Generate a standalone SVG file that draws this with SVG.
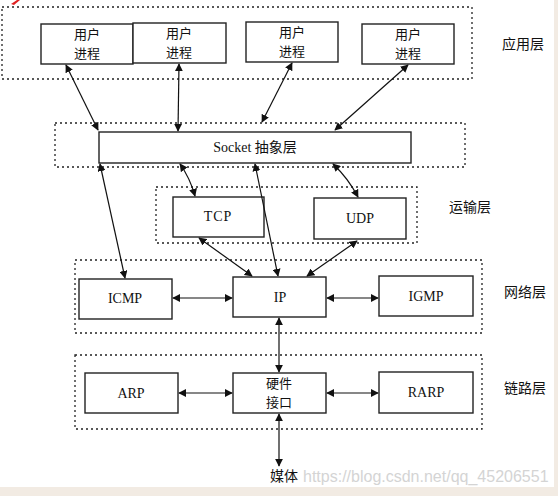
<svg xmlns="http://www.w3.org/2000/svg" width="558" height="496" viewBox="0 0 558 496">
<style>
.bg{fill:#ffffff}
.band{fill:#f2ebe3}
.layer{fill:none;stroke:#222;stroke-width:1.3;stroke-dasharray:2 3}
.box{fill:#ffffff;stroke:#222;stroke-width:1.4}
.cn{font-family:"Noto Sans CJK SC","Liberation Sans",sans-serif;font-size:14px;fill:#111;text-anchor:middle}
.cn2{font-family:"Noto Sans CJK SC","Liberation Sans",sans-serif;font-size:13px;fill:#111;text-anchor:middle}
.lat{font-family:"Liberation Serif","Noto Sans CJK SC",serif;font-size:14px;fill:#111;text-anchor:middle}
.side{font-family:"Noto Sans CJK SC",sans-serif;font-size:14px;fill:#111}
.wm{font-family:"Liberation Sans",sans-serif;font-size:16px;fill:#d4d4d4}
.conn line,.conn path{stroke:#111;stroke-width:1.2;fill:none;marker-start:url(#ah);marker-end:url(#ah)}
</style>
<defs>
<marker id="ah" viewBox="0 0 10 10" refX="9" refY="5" markerWidth="8" markerHeight="8" markerUnits="userSpaceOnUse" orient="auto-start-reverse">
<path d="M0,0 L10,5 L0,10 z" fill="#111"/>
</marker>
</defs>
<rect class="bg" x="0" y="0" width="558" height="496"/>
<rect class="band" x="554" y="0" width="4" height="496"/>
<rect class="band" x="0" y="487" width="558" height="9"/>
<path d="M11,4 L17,0 L20,0 L14,5 z" fill="#e02020"/>

<g id="layers">
<rect class="layer" x="2" y="7" width="470" height="72"/>
<rect class="layer" x="55" y="123" width="410" height="44"/>
<rect class="layer" x="156" y="187" width="261" height="56"/>
<rect class="layer" x="75" y="260" width="407" height="73"/>
<rect class="layer" x="75" y="355" width="407" height="74"/>
</g>

<g id="layer-labels">
<text class="side" x="502" y="49">应用层</text>
<text class="side" x="449" y="212">运输层</text>
<text class="side" x="504" y="297">网络层</text>
<text class="side" x="504" y="393">链路层</text>
</g>

<g id="proc1"><rect class="box" x="41" y="24" width="92" height="40"/><text class="cn2" x="87" y="39">用户</text><text class="cn2" x="87" y="58">进程</text></g>
<g id="proc2"><rect class="box" x="133" y="23" width="93" height="40"/><text class="cn2" x="179" y="38">用户</text><text class="cn2" x="179" y="57">进程</text></g>
<g id="proc3"><rect class="box" x="246" y="22" width="92" height="40"/><text class="cn2" x="292" y="37">用户</text><text class="cn2" x="292" y="56">进程</text></g>
<g id="proc4"><rect class="box" x="362" y="24" width="92" height="40"/><text class="cn2" x="408" y="39">用户</text><text class="cn2" x="408" y="58">进程</text></g>

<g id="socket"><rect class="box" x="99" y="132" width="312" height="31"/><text class="lat" x="255" y="152">Socket 抽象层</text></g>

<g id="tcp"><rect class="box" x="173" y="197" width="91" height="40"/><text class="lat" x="218" y="221" letter-spacing="1">TCP</text></g>
<g id="udp"><rect class="box" x="314" y="198" width="92" height="41"/><text class="lat" x="360" y="223">UDP</text></g>

<g id="icmp"><rect class="box" x="79" y="279" width="93" height="40"/><text class="lat" x="125" y="303">ICMP</text></g>
<g id="ip"><rect class="box" x="233" y="277" width="93" height="40"/><text class="lat" x="280" y="302">IP</text></g>
<g id="igmp"><rect class="box" x="379" y="276" width="94" height="40"/><text class="lat" x="426" y="301">IGMP</text></g>

<g id="arp"><rect class="box" x="85" y="373" width="93" height="40"/><text class="lat" x="131" y="398">ARP</text></g>
<g id="hw"><rect class="box" x="233" y="373" width="93" height="40"/><text class="cn2" x="279" y="388">硬件</text><text class="cn2" x="279" y="407">接口</text></g>
<g id="rarp"><rect class="box" x="379" y="372" width="94" height="41"/><text class="lat" x="426" y="397">RARP</text></g>

<g id="media"><text class="cn" x="284" y="481">媒体</text></g>

<g id="connectors" class="conn">
<line x1="66" y1="65" x2="98" y2="130"/>
<line x1="179" y1="64" x2="178" y2="131"/>
<line x1="292" y1="63" x2="262" y2="122"/>
<line x1="408" y1="65" x2="335" y2="130"/>
<path d="M180,164 Q190,178 195,196"/>
<path d="M333,164 Q348,178 358,197"/>
<line x1="255" y1="164" x2="278" y2="276"/>
<line x1="100" y1="164" x2="125" y2="278"/>
<line x1="199" y1="238" x2="252" y2="276"/>
<line x1="357" y1="241" x2="307" y2="276"/>
<line x1="173" y1="298" x2="232" y2="298"/>
<line x1="327" y1="298" x2="378" y2="298"/>
<line x1="279" y1="318" x2="279" y2="372"/>
<line x1="179" y1="393" x2="232" y2="393"/>
<line x1="327" y1="393" x2="378" y2="393"/>
<line x1="279" y1="414" x2="279" y2="466"/>
</g>

<text class="wm" x="303" y="482">https://blog.csdn.net/qq_45206551</text>
</svg>
